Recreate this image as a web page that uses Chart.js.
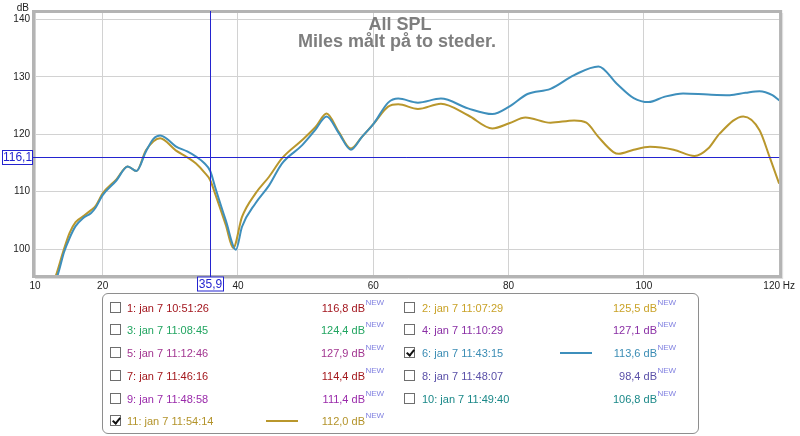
<!DOCTYPE html>
<html>
<head>
<meta charset="utf-8">
<script src="https://cdn.jsdelivr.net/npm/chart.js"></script>
<style>
  body { margin: 0; width: 800px; height: 436px; overflow: hidden; background: #fff;
         font-family: "Liberation Sans", Arial, sans-serif; position: relative; }
  #wrap { position: absolute; left: 0; top: 0; width: 800px; height: 296px; }
  #legendBox { position: absolute; left: 102px; top: 293px; width: 595px; height: 139px;
               border: 1px solid #8e8e8e; border-radius: 6px; }
  .cb { position: absolute; width: 11px; height: 11px; border: 1px solid #6e6e6e; background: #fff; box-sizing: border-box; }
  .cb.on::after { content: ""; position: absolute; left: 3px; top: 0px; width: 3px; height: 6px;
                  border-right: 2px solid #111; border-bottom: 2px solid #111; transform: rotate(40deg); }
  .txt { position: absolute; font-size: 11px; line-height: 14px; white-space: nowrap; }
  .val { text-align: right; width: 80px; }
  .new { position: absolute; font-size: 8px; line-height: 10px; color: #8080e0; }
  .swatch { position: absolute; height: 2px; }
</style>
</head>
<body>
<div id="wrap"><canvas id="spl" width="800" height="296"></canvas></div>
<div id="legendBox"></div>
<script>
// frequency response, trace 6 (blue)
const freq6 = [12.8, 13.4, 14.3, 15.1, 16.0, 17.1, 18.3, 19.0, 20.0, 22.0, 23.7, 25.0, 26.4, 27.5, 28.5, 29.5,
  30.8, 32.5, 33.8, 35.0, 35.9, 36.7, 38.2, 39.7, 40.6, 42.6, 44.6, 46.5, 49.5, 51.4, 53.1, 54.9, 56.7, 58.3,
  60.1, 62.2, 63.7, 66.6, 70.0, 74.0, 77.6, 80.1, 82.8, 86.2, 89.7, 93.3, 96.0, 98.5, 100.7, 103.0, 105.8,
  109.5, 112.7, 115.0, 117.1, 119.0, 120.0];
const spl6 = [94.0, 95.7, 99.5, 101.9, 104.0, 105.4, 106.3, 107.3, 109.4, 111.9, 114.4, 113.6, 117.0, 119.2, 119.8, 119.2,
  117.9, 117.0, 116.1, 115.0, 113.6, 110.5, 105.0, 99.9, 103.9, 108.0, 111.1, 114.9, 118.1, 120.7, 123.1, 120.2, 117.3, 119.5,
  121.9, 125.5, 126.2, 125.5, 126.2, 124.5, 123.5, 124.8, 127.0, 127.9, 130.3, 131.8, 128.8, 126.3, 125.6, 126.5, 127.1,
  126.9, 126.8, 127.2, 127.5, 126.8, 125.9];

// frequency response, trace 11 (gold)
const freq11 = [12.8, 13.2, 14.2, 15.1, 16.0, 17.1, 18.3, 19.0, 20.0, 22.0, 23.7, 25.0, 26.4, 28.5, 30.8, 32.5,
  33.8, 35.0, 35.9, 36.7, 38.2, 39.3, 40.6, 42.6, 44.6, 46.5, 49.5, 51.5, 53.1, 54.9, 56.7, 58.3, 60.1, 62.2,
  63.7, 66.6, 70.0, 74.0, 77.6, 80.1, 82.5, 86.2, 89.7, 91.5, 93.3, 95.5, 96.3, 98.5, 100.9, 104.4, 107.5,
  109.5, 111.2, 114.7, 117.1, 118.6, 120.0];
const spl11 = [94.5, 95.8, 99.7, 102.8, 104.7, 105.7, 106.8, 107.6, 109.7, 112.1, 114.4, 113.6, 117.2, 119.3, 117.2, 116.0,
  114.9, 113.4, 112.0, 109.4, 104.2, 100.2, 105.6, 109.7, 112.6, 115.8, 119.0, 121.3, 123.6, 120.4, 117.5, 119.5, 121.9, 124.8,
  125.2, 124.4, 125.3, 123.3, 121.0, 121.9, 122.9, 122.0, 122.4, 122.0, 119.5, 116.9, 116.6, 117.3, 117.8, 117.3, 116.2,
  117.5, 120.1, 123.1, 120.7, 116.0, 111.4];

const xTicks = [10, 20, 40, 60, 80, 100, 120];
const yTicks = [100, 110, 120, 130, 140];
const cursorHz = 35.9;
const cursorDb = 116.1;

// measurement list
const measNames = ['1: jan 7 10:51:26', '2: jan 7 11:07:29', '3: jan 7 11:08:45', '4: jan 7 11:10:29',
  '5: jan 7 11:12:46', '6: jan 7 11:43:15', '7: jan 7 11:46:16', '8: jan 7 11:48:07', '9: jan 7 11:48:58',
  '10: jan 7 11:49:40', '11: jan 7 11:54:14'];
const measValues = ['116,8', '125,5', '124,4', '127,1', '127,9', '113,6', '114,4', '98,4', '111,4', '106,8', '112,0'];
const measColors = ['#a3161e', '#c9a227', '#22a561', '#8a2fa5', '#a23590', '#3a8cb4', '#a3181c', '#5a50a8',
  '#9a2aaa', '#1a8888', '#b3932a'];
const measShown = [false, false, false, false, false, true, false, false, false, false, true];

const blueLine = '#3e8fbc';
const goldLine = '#b9972c';
const cursorColor = '#2424d0';

function pairs(xs, ys) { return xs.map((x, i) => ({ x: x, y: ys[i] })); }

const overlay = {
  id: 'overlay',
  beforeDraw(chart) {
    const ctx = chart.ctx;
    ctx.save();
    ctx.fillStyle = '#fff';
    ctx.fillRect(0, 0, chart.width, chart.height);
    ctx.restore();
  },
  afterDatasetsDraw(chart) {
    const { ctx, chartArea: a, scales: { x, y } } = chart;
    ctx.save();
    // frame
    ctx.strokeStyle = '#b4b4b4';
    ctx.lineWidth = 3;
    ctx.strokeRect(a.left - 1.5, a.top - 1.5, a.right - a.left + 3, a.bottom - a.top + 3);
    ctx.strokeStyle = '#dcdcdc';
    ctx.lineWidth = 1;
    ctx.beginPath();
    ctx.moveTo(a.right + 3.5, a.top); ctx.lineTo(a.right + 3.5, a.bottom + 4);
    ctx.moveTo(a.left, a.bottom + 3.5); ctx.lineTo(a.right + 3, a.bottom + 3.5);
    ctx.stroke();

    // cursor
    const cx = Math.round(x.getPixelForValue(cursorHz)) + 0.5;
    const cy = Math.round(y.getPixelForValue(cursorDb)) + 0.5;
    ctx.strokeStyle = cursorColor;
    ctx.beginPath();
    ctx.moveTo(cx, a.top - 2); ctx.lineTo(cx, a.bottom + 2);
    ctx.moveTo(33, cy); ctx.lineTo(a.right, cy);
    ctx.stroke();

    ctx.font = '12px "Liberation Sans", Arial, sans-serif';
    ctx.textAlign = 'center';
    ctx.textBaseline = 'middle';
    // y readout
    ctx.fillStyle = '#fff';
    ctx.fillRect(2.5, cy - 7, 30, 14);
    ctx.strokeRect(2.5, cy - 7, 30, 14);
    ctx.fillStyle = cursorColor;
    ctx.fillText(cursorDb.toFixed(1).replace('.', ','), 17.5, cy + 0.5);
    // x readout
    ctx.fillStyle = '#fff';
    ctx.fillRect(cx - 13, a.bottom + 2, 26, 14);
    ctx.strokeRect(cx - 13, a.bottom + 2, 26, 14);
    ctx.fillStyle = cursorColor;
    ctx.fillText(cursorHz.toFixed(1).replace('.', ','), cx, a.bottom + 9.5);

    // unit + title
    ctx.fillStyle = '#222';
    ctx.font = '10px "Liberation Sans", Arial, sans-serif';
    ctx.textAlign = 'right';
    ctx.textBaseline = 'alphabetic';
    ctx.fillText('dB', 29, 11);
    ctx.fillStyle = '#7e7e7e';
    ctx.font = 'bold 18px "Liberation Sans", Arial, sans-serif';
    ctx.textAlign = 'center';
    ctx.fillText('All SPL', 400, 30);
    ctx.fillText('Miles målt på to steder.', 397, 47);
    ctx.restore();
  }
};

new Chart(document.getElementById('spl'), {
  type: 'line',
  data: {
    datasets: [
      { label: measNames[5], data: pairs(freq6, spl6), borderColor: blueLine, borderWidth: 2,
        pointRadius: 0, cubicInterpolationMode: 'monotone', fill: false },
      { label: measNames[10], data: pairs(freq11, spl11), borderColor: goldLine, borderWidth: 2,
        pointRadius: 0, cubicInterpolationMode: 'monotone', fill: false }
    ]
  },
  options: {
    responsive: false,
    animation: false,
    layout: { padding: { top: 13, right: 17, left: 0, bottom: 0 } },
    plugins: { legend: { display: false }, tooltip: { enabled: false } },
    scales: {
      x: {
        type: 'linear', min: 10, max: 120,
        afterBuildTicks: s => { s.ticks = xTicks.map(v => ({ value: v })); },
        afterFit: s => { s.height = 21; },
        grid: { color: '#d2d2d2', drawTicks: false },
        border: { display: false },
        ticks: {
          autoSkip: false, maxRotation: 0, padding: 5, color: '#222',
          font: { family: '"Liberation Sans", Arial, sans-serif', size: 10 },
          callback: v => v === 120 ? '120 Hz' : String(v)
        }
      },
      y: {
        min: 95.5, max: 141.1,
        afterBuildTicks: s => { s.ticks = yTicks.map(v => ({ value: v })); },
        afterFit: s => { s.width = 35; },
        grid: { color: '#d2d2d2', drawTicks: false },
        border: { display: false },
        ticks: {
          padding: 5, color: '#222',
          font: { family: '"Liberation Sans", Arial, sans-serif', size: 10 }
        }
      }
    }
  },
  plugins: [overlay]
});

// legend list below the graph
const cols = [
  { cb: 110, label: 127, sw: 266, valRight: 365 },
  { cb: 404, label: 422, sw: 560, valRight: 657 }
];
measNames.forEach((name, i) => {
  const col = cols[i % 2];
  const rowY = 307.5 + Math.floor(i / 2) * 22.75;
  const box = document.createElement('div');
  box.className = 'cb' + (measShown[i] ? ' on' : '');
  box.style.left = col.cb + 'px';
  box.style.top = (rowY - 6) + 'px';
  document.body.appendChild(box);

  const lab = document.createElement('div');
  lab.className = 'txt';
  lab.style.left = col.label + 'px';
  lab.style.top = (rowY - 7) + 'px';
  lab.style.color = measColors[i];
  lab.textContent = name;
  document.body.appendChild(lab);

  const val = document.createElement('div');
  val.className = 'txt val';
  val.style.left = (col.valRight - 80) + 'px';
  val.style.top = (rowY - 7) + 'px';
  val.style.color = measColors[i];
  val.textContent = measValues[i] + ' dB';
  document.body.appendChild(val);

  const nw = document.createElement('div');
  nw.className = 'new';
  nw.style.left = (col.valRight + 0.5) + 'px';
  nw.style.top = (rowY - 10) + 'px';
  nw.textContent = 'NEW';
  document.body.appendChild(nw);

  if (measShown[i]) {
    const sw = document.createElement('div');
    sw.className = 'swatch';
    sw.style.left = col.sw + 'px';
    sw.style.width = '32px';
    sw.style.top = (rowY - 1) + 'px';
    sw.style.background = i === 5 ? blueLine : goldLine;
    document.body.appendChild(sw);
  }
});
</script>
</body>
</html>
